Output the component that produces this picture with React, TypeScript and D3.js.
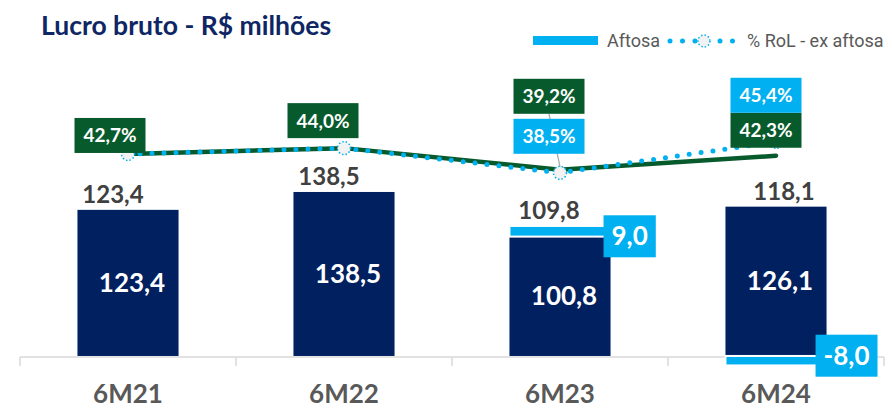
import React, { useEffect, useRef } from 'react'
import * as d3 from 'd3'

// Lucro bruto (R$ milhões) por semestre
const categories = ['6M21', '6M22', '6M23', '6M24']
const lucroBase = [123.4, 138.5, 100.8, 126.1]
const aftosa = [0, 0, 9.0, -8.0]
const lucroTotal = [123.4, 138.5, 109.8, 118.1]
// margem bruta (% RoL)
const margemRol = [42.7, 44.0, 39.2, 42.3]
const margemExAftosa = [42.7, 44.0, 38.5, 45.4]

const NAVY = '#002060'
const CYAN = '#00b0f0'
const GREEN = '#075a2c'
const FONT = 'Lato, "Open Sans", sans-serif'

// label nudges, like the hand-placed labels in the original
const totalDx = [-15, -15, -11, 8]
const pctDx = [-18, -21, -11, -10]
const aftosaDx = [0, 0, 19, 15]
const aftosaDy = [0, 0, 5, -5]

const br = d3.formatLocale({ decimal: ',', thousands: '.', grouping: [3], currency: ['R$', ''], minus: '-' })
const fmt = br.format('.1f')

export default function App() {
  const ref = useRef<SVGSVGElement>(null)

  useEffect(() => {
    const svg = d3.select(ref.current)
    svg.selectAll('*').remove()

    const x = d3.scaleBand().domain(categories).range([20, 884])
    const xBar = d3.scaleBand().domain(categories).range([20, 884]).paddingInner(0.532).paddingOuter(0.266)
    const y = d3.scaleLinear().domain([-10, 140]).range([367.8, 190.2])
    const yPct = d3.scaleLinear().domain([36, 48]).range([184, 130.2])
    const cx = (c: string) => x(c)! + x.bandwidth() / 2
    const bw = xBar.bandwidth()

    // title
    svg.append('text')
      .attr('x', 41).attr('y', 35)
      .style('font-family', FONT).style('font-weight', 700).style('font-size', '26.5px')
      .attr('fill', '#0e2663')
      .text('Lucro bruto - R$ milhões')

    // legend
    const lg = svg.append('g')
    lg.append('rect').attr('x', 533).attr('y', 36).attr('width', 65).attr('height', 9).attr('fill', CYAN)
    lg.append('text').attr('x', 607).attr('y', 46.5)
      .style('font-family', 'Roboto, sans-serif').style('font-size', '18px').attr('fill', '#595959')
      .text('Aftosa')
    lg.append('line').attr('x1', 670).attr('x2', 733).attr('y1', 41).attr('y2', 41)
      .attr('stroke', CYAN).attr('stroke-width', 5).attr('stroke-linecap', 'round')
      .attr('stroke-dasharray', '0 12.5')
    lg.append('circle').attr('cx', 704).attr('cy', 41).attr('r', 6)
      .attr('fill', '#f2f2f2').attr('stroke', CYAN).attr('stroke-width', 1.5).attr('stroke-dasharray', '1.5 2')
    lg.append('text').attr('x', 747).attr('y', 46.5)
      .style('font-family', 'Roboto, sans-serif').style('font-size', '18px').attr('fill', '#595959')
      .text('% RoL - ex aftosa')

    // axis
    const ax = svg.append('g')
    ax.append('line').attr('x1', 20).attr('x2', 884).attr('y1', y(0) + 1).attr('y2', y(0) + 1)
      .attr('stroke', '#d9d9d9').attr('stroke-width', 1.5)
    const bounds = [...categories.map(c => x(c)!), x.range()[1]]
    ax.selectAll('line.tick').data(bounds).enter().append('line')
      .attr('class', 'tick')
      .attr('x1', d => d).attr('x2', d => d).attr('y1', y(0) + 1).attr('y2', y(0) + 10)
      .attr('stroke', '#d9d9d9').attr('stroke-width', 1.5)
    ax.selectAll('text').data(categories).enter().append('text')
      .attr('x', d => cx(d)).attr('y', 403).attr('text-anchor', 'middle')
      .style('font-family', FONT).style('font-weight', 700).style('font-size', '26px')
      .attr('fill', '#595959')
      .text(d => d)

    // bars
    svg.selectAll('rect.base').data(lucroBase).enter().append('rect')
      .attr('class', 'base')
      .attr('x', (d, i) => xBar(categories[i])!)
      .attr('width', bw)
      .attr('y', d => y(d))
      .attr('height', d => y(0) - y(d))
      .attr('fill', NAVY)

    const af = aftosa.map((v, i) => ({ v, i })).filter(d => d.v !== 0)
    svg.selectAll('rect.aftosa').data(af).enter().append('rect')
      .attr('class', 'aftosa')
      .attr('x', d => xBar(categories[d.i])!)
      .attr('width', bw)
      .attr('y', d => d.v > 0 ? y(lucroBase[d.i] + d.v) : y(0))
      .attr('height', d => Math.abs(y(d.v) - y(0)))
      .attr('fill', CYAN).attr('stroke', '#fff').attr('stroke-width', 2)

    // value labels inside bars
    svg.selectAll('text.inner').data(lucroBase).enter().append('text')
      .attr('class', 'inner')
      .attr('x', (d, i) => cx(categories[i]) + 4)
      .attr('y', d => (y(d) + y(0)) / 2 + 9)
      .attr('text-anchor', 'middle')
      .style('font-family', FONT).style('font-weight', 700).style('font-size', '26px')
      .attr('fill', '#fff')
      .text(d => fmt(d))

    // totals above bars
    svg.selectAll('text.total').data(lucroTotal).enter().append('text')
      .attr('class', 'total')
      .attr('x', (d, i) => cx(categories[i]) + totalDx[i])
      .attr('y', (d, i) => y(Math.max(lucroBase[i], lucroBase[i] + aftosa[i])) - 7)
      .attr('text-anchor', 'middle')
      .style('font-family', FONT).style('font-weight', 700).style('font-size', '24px')
      .attr('fill', '#404040')
      .text(d => fmt(d))

    // margin lines
    const pts = (vals: number[]) => vals.map((v, i) => [cx(categories[i]), yPct(v)] as [number, number])
    const line = d3.line()

    svg.append('path').attr('d', line(pts(margemRol))!)
      .attr('fill', 'none').attr('stroke', GREEN).attr('stroke-width', 4.5)
      .attr('stroke-linecap', 'round').attr('stroke-linejoin', 'round')
    svg.append('path').attr('d', line(pts(margemExAftosa))!)
      .attr('fill', 'none').attr('stroke', CYAN).attr('stroke-width', 5).attr('stroke-linecap', 'round')
      .attr('stroke-dasharray', '0 12')
    svg.selectAll('circle.mk').data(pts(margemExAftosa)).enter().append('circle')
      .attr('class', 'mk')
      .attr('cx', d => d[0]).attr('cy', d => d[1]).attr('r', 6.5)
      .attr('fill', '#f2f2f2').attr('stroke', CYAN).attr('stroke-width', 1.5).attr('stroke-dasharray', '1.5 2')

    // percentage boxes
    const BW = 71, BH = 35
    const box = (g: d3.Selection<SVGGElement, unknown, null, undefined>, cxp: number, top: number, fill: string, label: string) => {
      g.append('rect').attr('x', cxp - BW / 2).attr('y', top).attr('width', BW).attr('height', BH).attr('fill', fill)
      g.append('text').attr('x', cxp).attr('y', top + BH / 2 + 7).attr('text-anchor', 'middle')
        .style('font-family', FONT).style('font-weight', 700).style('font-size', '19px')
        .attr('fill', '#fff').text(label)
    }
    const pg = svg.append('g')
    categories.forEach((c, i) => {
      const bx = cx(c) + pctDx[i]
      const yg = yPct(margemRol[i])
      const yc = yPct(margemExAftosa[i])
      const gTxt = fmt(margemRol[i]) + '%'
      const cTxt = fmt(margemExAftosa[i]) + '%'
      if (margemRol[i] === margemExAftosa[i]) {
        box(pg, bx, yg - (i === 0 ? 1 : 10) - BH, GREEN, gTxt)
      } else if (margemExAftosa[i] < margemRol[i]) {
        const cTop = yc - 19 - BH
        const gTop = cTop - 5 - BH
        pg.append('line').attr('x1', bx).attr('y1', gTop + BH).attr('x2', cx(c)).attr('y2', yc - 6)
          .attr('stroke', '#a6a6a6').attr('stroke-width', 1.2)
        box(pg, bx, cTop, CYAN, cTxt)
        box(pg, bx, gTop, GREEN, gTxt)
      } else {
        const gTop = yg - 8 - BH
        box(pg, bx, gTop, GREEN, gTxt)
        box(pg, bx, gTop - BH, CYAN, cTxt)
      }
    })

    // aftosa value boxes
    af.forEach(d => {
      const right = xBar(categories[d.i])! + bw
      const mid = (y(d.v > 0 ? lucroBase[d.i] + d.v : d.v) + y(d.v > 0 ? lucroBase[d.i] : 0)) / 2 + aftosaDy[d.i]
      const t = svg.append('text')
        .attr('text-anchor', 'middle')
        .style('font-family', FONT).style('font-weight', 700).style('font-size', '26px')
        .attr('fill', '#fff').text(fmt(d.v))
      const tw = (t.node() as SVGTextElement).getComputedTextLength()
      const w = tw + 16
      const bxc = right + aftosaDx[d.i] + (w - 52) / 2
      svg.insert('rect', () => t.node() as SVGTextElement)
        .attr('x', bxc - w / 2).attr('y', mid - 21).attr('width', w).attr('height', 42).attr('fill', CYAN)
      t.attr('x', bxc).attr('y', mid + 9)
    })
  }, [])

  return (
    <svg ref={ref} width={892} height={408} style={{ position: 'absolute', left: 0, top: 0, background: '#fff' }} />
  )
}
